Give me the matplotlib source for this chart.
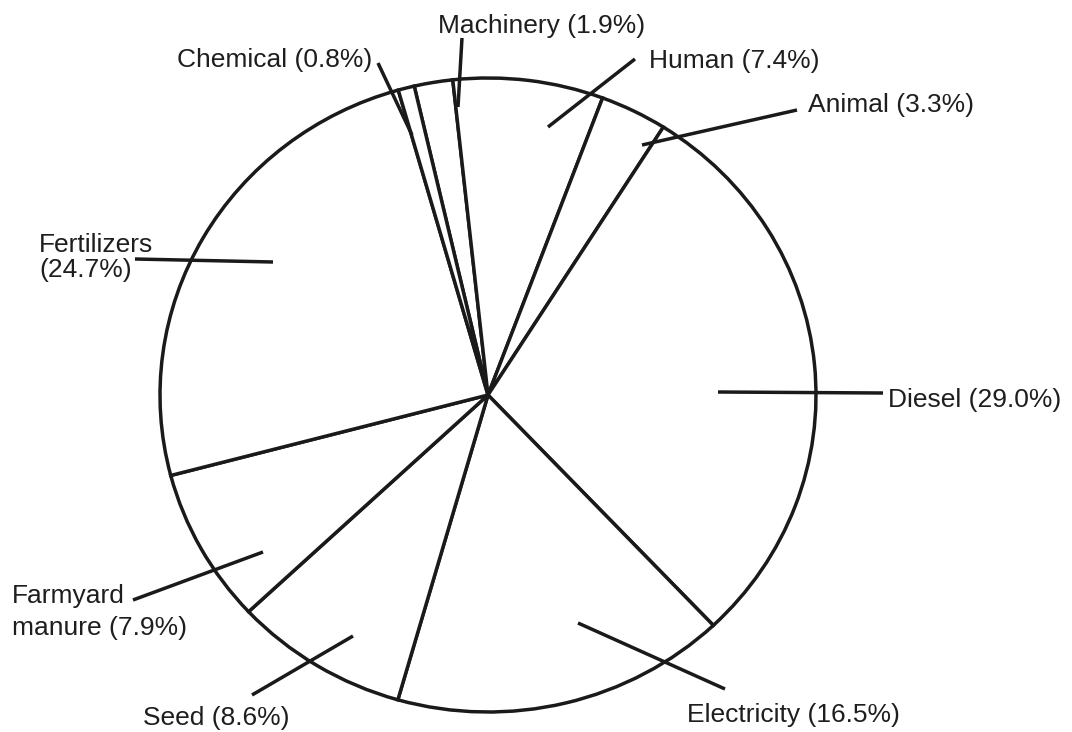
import matplotlib
matplotlib.use("Agg")
from matplotlib import pyplot as plt

plt.rcParams['font.family'] = ['Liberation Sans', 'DejaVu Sans']

# slice data, clockwise from the top
categories = ['Machinery', 'Human', 'Animal', 'Diesel', 'Electricity',
              'Seed', 'Farmyard\nmanure', 'Fertilizers', 'Chemical']
shares = [1.9, 7.4, 3.3, 29.0, 16.5, 8.6, 7.9, 24.7, 0.8]

# label layout in pixels (x, baseline y of first line, alignment, line gap)
label_pos = {
    'Machinery': (542, 33, 'center', 0),
    'Human': (649, 68, 'left', 0),
    'Animal': (808, 112, 'left', 0),
    'Diesel': (888, 407, 'left', 0),
    'Electricity': (687, 722, 'left', 0),
    'Seed': (143, 725, 'left', 0),
    'Farmyard\nmanure': (12, 603, 'left', 32),
    'Fertilizers': (39, 252, 'left', 25),
    'Chemical': (372, 67, 'right', 0),
}
# leader lines (outer end, inner end) in pixels
leaders = {
    'Machinery': ((462, 38), (458, 107)),
    'Human': ((635, 59), (548, 127)),
    'Animal': ((797, 110), (642, 145)),
    'Diesel': ((883, 393), (718, 392)),
    'Electricity': ((725, 689), (578, 623)),
    'Seed': ((252, 695), (353, 636)),
    'Farmyard\nmanure': ((133, 600), (263, 552)),
    'Fertilizers': ((135, 259), (273, 262)),
    'Chemical': ((378, 63), (412, 135)),
}

W, H = 1072, 732
fig = plt.figure(figsize=(W / 100, H / 100), dpi=100)
fig.patch.set_facecolor('white')

# pie axes box (pixel extents of the ellipse)
left, right, top, bottom = 160, 816, 78, 712
pax = fig.add_axes([left / W, 1 - bottom / H, (right - left) / W, (bottom - top) / H])
pax.pie(shares, startangle=103, counterclock=False,
        colors=['white'] * len(shares),
        wedgeprops=dict(edgecolor='#1a1a1a', linewidth=2.5))
pax.set_aspect('auto')
pax.set_xlim(-1, 1)
pax.set_ylim(-1, 1)
pax.axis('off')

# overlay for labels and leader lines
ax = fig.add_axes([0, 0, 1, 1])
ax.set_xlim(0, W)
ax.set_ylim(H, 0)
ax.axis('off')
ax.patch.set_alpha(0)

for name, val in zip(categories, shares):
    (x0, y0), (x1, y1) = leaders[name]
    ax.plot([x0, x1], [y0, y1], color='#1a1a1a', lw=2.5, solid_capstyle='butt')
    x, y, ha, gap = label_pos[name]
    lines = (name + ' (%.1f%%)' % val).split('\n')
    if name == 'Fertilizers':
        lines = ['Fertilizers', '(%.1f%%)' % val]
    for i, line in enumerate(lines):
        ax.text(x, y + i * gap, line, ha=ha, va='baseline',
                fontsize=19, color='#1e1e1e')

fig.savefig('out.png', dpi=100, facecolor='white')
